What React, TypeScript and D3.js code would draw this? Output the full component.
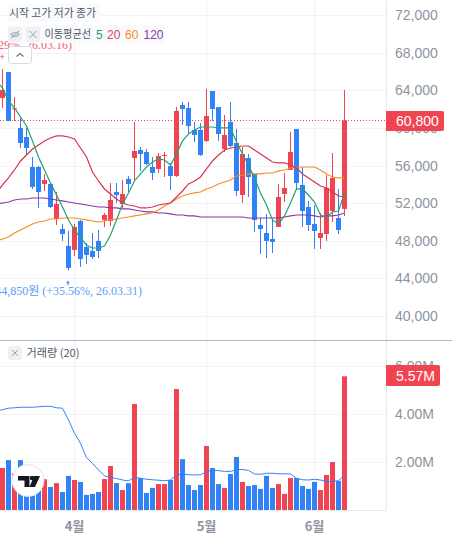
import React from "react";
import * as d3 from "d3";

const opens = [63180,65940,62000,59990,59030,55840,55840,54035,54035,50315,49250,47445,47020,50100,47340,46915,47980,50210,50100,53185,51910,54570,56800,57650,57435,55840,55630,57010,55950,54885,62430,62115,59775,59775,58610,63920,62220,57755,60630,58395,52865,56800,55100,49675,48825,48190,49465,52970,55525,59880,53930,51590,49785,48295,48720,51165,50420,51380];
const highs = [66260,65940,63280,61050,59990,56905,55950,55100,54035,53185,49785,49040,49785,50210,47765,48825,49145,50950,54140,54140,54460,54885,60630,57970,57755,56905,57330,57435,56270,62220,62750,62750,60630,60520,64135,63920,62220,61370,62750,59880,57970,57225,55100,50420,50850,50420,54035,55205,59560,59880,55840,52230,51800,50950,54990,57330,53505,64030];
const lows = [62115,60730,60730,57860,57120,53505,51485,53290,51485,49675,47980,44850,46380,45215,45530,46065,46170,49465,49570,52015,51485,53185,54460,55420,56055,54460,55205,54780,53400,54780,60310,59460,58500,57010,58500,60730,58610,57435,57970,52760,52015,52650,48935,46595,46170,46700,49465,52120,55525,53400,49465,49040,47125,47125,47980,49995,48720,50635];
const closes = [64030,60730,62080,58395,57860,53720,53185,54460,51590,51910,48720,45110,49465,46065,46490,46275,46915,50740,52335,52865,52970,54035,57540,57225,56160,55205,57010,57120,54885,61800,62010,60200,59245,57120,61265,62010,59350,59245,58075,53290,57225,54780,50210,49250,47980,47870,52650,53610,57435,54140,51165,49675,49040,48825,53610,54675,49145,60800];
const volumes = [1.75,2.08,1.53,2.08,1.1,1.1,1.3,1.28,0.96,1.12,0.75,1.42,1.25,1.17,0.63,0.67,0.75,1.29,1.83,1.12,0.83,1.12,4.42,1.33,0.71,0.92,1.08,1.08,1.25,5.04,2.12,1.04,0.83,1.04,2.67,1.75,1.08,0.92,1.5,2.21,1.17,1.0,1.04,0.88,1.42,0.92,1.08,0.67,1.33,1.33,1.0,0.88,1.17,0.83,1.46,2.0,1.21,5.57];
// moving averages start one session before the first visible candle
const ma5 = [64985,64240,62860,62115,61160,60200,58610,56905,55525,54140,52865,51590,50210,49145,48295,47550,47230,47230,47445,48615,50210,51910,53080,54355,55100,55840,56375,56695,56590,56055,57225,58610,59350,59775,60095,60095,60095,59990,59990,59990,58500,57225,56055,54675,53080,51800,50210,49785,50635,52015,53505,53505,52865,52120,50740,50525,51060,51165,53080];
const ma20 = [53080,53930,54675,55525,56480,57120,57755,58180,58610,58925,59140,59140,59030,58820,57860,56905,55310,54355,53505,52970,52440,52015,51800,51695,51485,51485,51590,51800,51910,52015,52650,53290,54035,54355,54780,55630,56480,57120,57650,57860,57970,58075,58075,57650,57225,56800,56375,56270,56270,56055,55735,55100,54675,54250,53825,53610,53185,52760,52650];
const ma60 = [47975,48190,48400,48825,49145,49465,49785,49995,50100,50315,50315,50420,50420,50420,50315,50210,50100,49995,50100,50210,50315,50420,50525,50635,50740,50850,50950,51270,51695,52015,52440,52760,52970,53080,53185,53505,53720,54035,54250,54460,54885,54990,55100,55100,55100,55205,55205,55420,55525,55735,55840,55840,55840,55840,55525,55100,54780,54675,54675];
const ma120 = [51910,52015,52120,52335,52440,52440,52545,52545,52545,52440,52335,52230,52120,52015,51910,51800,51695,51590,51590,51485,51485,51380,51380,51270,51165,51060,51060,50950,50950,50850,50740,50740,50635,50635,50525,50525,50525,50525,50525,50525,50525,50525,50420,50420,50420,50420,50420,50420,50525,50635,50740,50740,50740,50635,50525,50635,50635,50740,50950];
const volumeMa = [4.12,4.18,4.24,4.26,4.28,4.28,4.28,4.3,4.32,4.32,4.26,4.24,3.75,3.2,2.78,2.18,1.94,1.67,1.42,1.36,1.31,1.25,1.21,1.36,1.32,1.28,1.26,1.24,1.22,1.25,1.46,1.5,1.47,1.46,1.47,1.6,1.65,1.64,1.61,1.61,1.68,1.69,1.65,1.5,1.49,1.53,1.53,1.51,1.51,1.5,1.32,1.26,1.25,1.28,1.25,1.19,1.19,1.22,1.44];
const priceTicks = [72000,68000,64000,60000,56000,52000,48000,44000,40000];
const volumeTicks = [6,4,2];
const monthLabels = ["4월","5월","6월"];
const monthIndex = [12,34,52];
const lastPrice = 60800;
const lastVolume = 5.57;

const RED = "#f04452";
const BLUE = "#3182f6";
const GREY = "#8b95a1";
const GRID = "#f2f3f5";
const KR = "'Noto Sans CJK KR','Noto Sans',sans-serif";
const LAT = "'Liberation Sans',Arial,sans-serif";
const SERIF = "'Liberation Serif','Noto Sans CJK KR',serif";

export default function App() {
  const x = d3.scaleLinear().domain([0, 57]).range([2.5, 344.5]);
  const y = d3.scaleLinear().domain([40000, 72000]).range([316, 15]);
  const v = d3.scaleLinear().domain([0, 6]).range([510, 366]);
  const maLine = d3.line<number>().x((_, i) => x(i - 1)).y((d) => y(d));
  const volLine = d3.line<number>().x((_, i) => x(i - 1)).y((d) => v(d));
  const snap = (n: number) => Math.round(n) + 0.5;
  const maSeries: [number[], string][] = [
    [ma120, "#8e35a8"],
    [ma60, "#fb8c1e"],
    [ma20, "#d8344e"],
    [ma5, "#1fa474"],
  ];
  return (
    <svg width={452} height={542} style={{ position: "fixed", left: 0, top: 0, background: "#fff" }}>
      <defs>
        <clipPath id="plot"><rect x={0} y={0} width={386} height={340} /></clipPath>
        <clipPath id="vplot"><rect x={0} y={341} width={386} height={169} /></clipPath>
      </defs>
      {priceTicks.map((t) => (
        <line key={t} x1={0} x2={386} y1={snap(y(t))} y2={snap(y(t))} stroke={GRID} />
      ))}
      {volumeTicks.map((t) => (
        <line key={t} x1={0} x2={386} y1={snap(v(t))} y2={snap(v(t))} stroke={GRID} />
      ))}
      {monthIndex.map((m) => (
        <line key={m} x1={x(m)} x2={x(m)} y1={0} y2={510} stroke={GRID} />
      ))}
      <line x1={386.5} x2={386.5} y1={0} y2={511} stroke="#e8eaed" />
      <line x1={0} x2={387} y1={510.5} y2={510.5} stroke="#e8eaed" />
      <line x1={0} x2={452} y1={340.5} y2={340.5} stroke="#b0b8c6" />

      <g clipPath="url(#plot)">
        <line x1={0} x2={386} y1={snap(y(lastPrice))} y2={snap(y(lastPrice))} stroke={RED} strokeDasharray="1 2" />
        {opens.map((o, i) => {
          const c = closes[i];
          const col = c >= o ? RED : BLUE;
          const top = y(Math.max(o, c));
          const h = Math.max(1, Math.abs(y(o) - y(c)));
          return (
            <g key={i} fill={col}>
              <rect x={x(i) - 0.5} y={y(highs[i])} width={1} height={y(lows[i]) - y(highs[i])} />
              <rect x={x(i) - 2.5} y={top} width={5} height={h} />
            </g>
          );
        })}
        {maSeries.map(([s, col]) => (
          <path key={col} d={maLine(s) ?? ""} fill="none" stroke={col} strokeWidth={1.2} />
        ))}
      </g>

      <g clipPath="url(#vplot)">
        {volumes.map((d, i) => (
          <rect key={i} x={x(i) - 2.5} y={v(d)} width={5} height={510 - v(d)} fill={closes[i] >= opens[i] ? RED : BLUE} />
        ))}
        <path d={volLine(volumeMa) ?? ""} fill="none" stroke={BLUE} strokeWidth={1} />
      </g>

      {/* high / low annotations */}
      <text x={72} y={49} textAnchor="end" fontFamily={SERIF} fontSize={12} fill="#f2626e">66,260원 (+8.29%, 26.03.16)</text>
      <text x={2} y={60} textAnchor="middle" fontSize={9} fill={RED} fontFamily={LAT}>+</text>
      <text x={142} y={295} textAnchor="end" fontFamily={SERIF} fontSize={12} fill="#5c9df7">44,850원 (+35.56%, 26.03.31)</text>
      <path d="M68 280.5l2 2.5h-1.2v2h-1.6v-2h-1.2z" fill="#5c9df7" />

      {/* header */}
      <rect x={8} y={4} width={92} height={18} fill="#f9fafb" />
      <text x={9} y={17} fontFamily={KR} fontSize={11} fill="#4e5968" textLength={87} lengthAdjust="spacingAndGlyphs">시작 고가 저가 종가</text>
      <rect x={8} y={25} width={156} height={18} fill="#f9fafb" />
      <rect x={8} y={27} width={14} height={15} rx={3} fill="#eef0f3" />
      <path d="M11 34.5q4-4 8 0q-4 4-8 0zM11 38l8-7" fill="none" stroke="#a8b0ba" strokeWidth={1.1} />
      <rect x={26} y={27} width={14} height={15} rx={3} fill="#eef0f3" />
      <path d="M29.5 31l7 7M36.5 31l-7 7" stroke="#9aa3ad" strokeWidth={1} />
      <text x={44.5} y={38} fontFamily={KR} fontSize={11} fill="#4e5968" textLength={46.5} lengthAdjust="spacingAndGlyphs">이동평균선</text>
      <text x={96} y={38.5} fontFamily={LAT} fontSize={12} fill="#1fa474">5</text>
      <text x={107} y={38.5} fontFamily={LAT} fontSize={12} fill="#e0405a">20</text>
      <text x={125} y={38.5} fontFamily={LAT} fontSize={12} fill="#fb8c1e">60</text>
      <text x={143.5} y={38.5} fontFamily={LAT} fontSize={12} fill="#8e35a8">120</text>
      <rect x={8.5} y={46.5} width={23} height={17} rx={3} fill="#fff" stroke="#d6dae0" />
      <path d="M16.5 56.5l3.5-3l3.5 3" fill="none" stroke="#6b7684" strokeWidth={1.2} />

      {/* price axis */}
      {priceTicks.map((t) => (
        <text key={t} x={395} y={y(t) + 5} fontFamily={LAT} fontSize={14} fill={GREY}>{d3.format(",")(t)}</text>
      ))}
      <path d="M386 111h56a2 2 0 0 1 2 2v16a2 2 0 0 1-2 2h-56z" fill={RED} />
      <text x={396} y={y(lastPrice) + 5.5} fontFamily={LAT} fontSize={14} fill="#fff">{d3.format(",")(lastPrice)}</text>

      {/* volume */}
      <rect x={8} y={346} width={14} height={14} rx={3} fill="#eef0f3" />
      <path d="M12 350l6 6M18 350l-6 6" stroke="#9aa3ad" strokeWidth={1} />
      <text x={26.5} y={357} fontFamily={KR} fontSize={11} fill="#4e5968" textLength={53} lengthAdjust="spacingAndGlyphs">거래량 (20)</text>
      {volumeTicks.map((t) => (
        <text key={t} x={395} y={v(t) + 5} fontFamily={LAT} fontSize={14} fill={GREY}>{t.toFixed(2)}M</text>
      ))}
      <path d="M386 365h52a2 2 0 0 1 2 2v17a2 2 0 0 1-2 2h-52z" fill={RED} />
      <text x={396} y={380.5} fontFamily={LAT} fontSize={14} fill="#fff">{lastVolume.toFixed(2)}M</text>

      {/* month labels */}
      {monthIndex.map((m, i) => (
        <text key={m} x={x(m)} y={531} textAnchor="middle" fontFamily={KR} fontSize={13} fontWeight={700} fill={GREY}>{monthLabels[i]}</text>
      ))}

      {/* logo badge */}
      <circle cx={28} cy={480.5} r={16} fill="#fff" stroke="#e4e6ea" strokeWidth={1} />
      <path d="M18 476h11.5v11h-5v-6.5H18zM34 476h6l-5 11h-5.5z" fill="#131722" />
      <circle cx={32} cy={478} r={2.2} fill="#131722" />
    </svg>
  );
}
